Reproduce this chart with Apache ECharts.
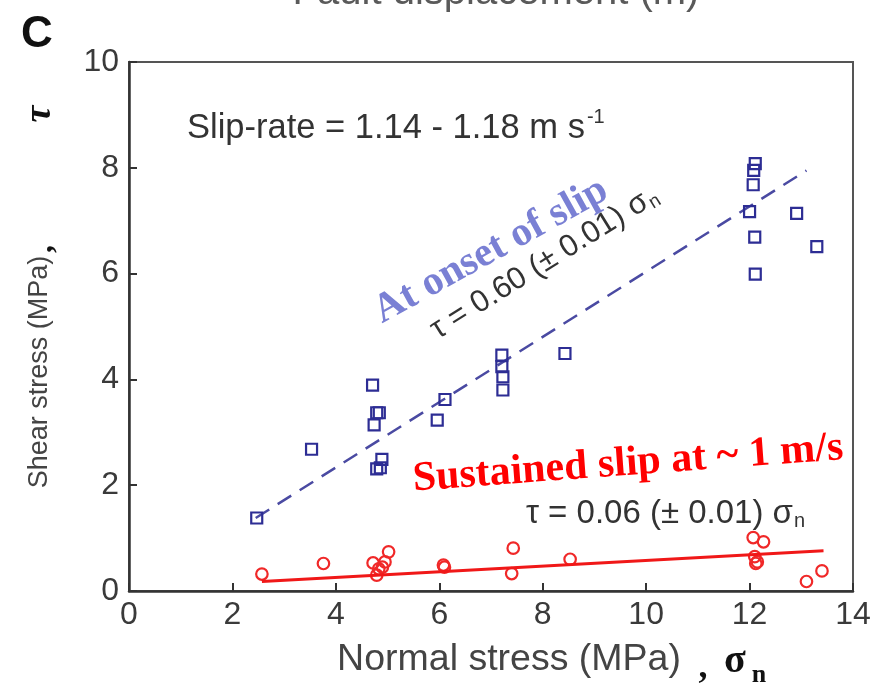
<!DOCTYPE html>
<html><head><meta charset="utf-8">
<script src="https://cdn.jsdelivr.net/npm/echarts@6/dist/echarts.min.js"></script>
<style>html,body{margin:0;padding:0;background:#fff}#c{width:884px;height:686px}</style>
</head><body><div id="c"></div>
<script>
// ---- data ----
const xTicks = [0, 2, 4, 6, 8, 10, 12, 14];
const yTicks = [0, 2, 4, 6, 8, 10];
// At onset of slip (blue squares)
const onsetX = [2.47, 3.53, 4.71, 4.79, 4.84, 4.74, 4.89, 4.79, 4.86, 5.96, 6.11, 7.21, 7.21, 7.23, 7.23, 8.43, 12.11, 12.08, 12.07, 12.0, 12.1, 12.11, 12.91, 13.3];
const onsetY = [1.38, 2.68, 3.89, 3.37, 3.37, 3.14, 2.49, 2.31, 2.33, 3.23, 3.62, 4.46, 4.24, 4.05, 3.80, 4.49, 8.08, 7.95, 7.68, 7.17, 6.69, 5.99, 7.14, 6.51];
// Sustained slip (red circles)
const sustX = [2.57, 3.76, 4.72, 4.79, 4.83, 4.95, 5.02, 4.9, 6.08, 6.1, 7.4, 7.43, 8.53, 12.07, 12.27, 12.1, 12.15, 12.12, 13.1, 13.4];
const sustY = [0.32, 0.52, 0.53, 0.30, 0.42, 0.55, 0.74, 0.45, 0.49, 0.45, 0.33, 0.81, 0.60, 1.01, 0.93, 0.65, 0.55, 0.52, 0.18, 0.38];
// fitted lines
const onsetFitX = [2.45, 13.1];
const onsetFitY = [1.38, 7.95];
const sustFitX = [2.57, 13.43];
const sustFitY = [0.18, 0.76];

// ---- helpers ----
const SANS = '"Liberation Sans", Arial, Helvetica, sans-serif';
const SERIF = '"Liberation Serif", "Times New Roman", serif';
const mctx = document.createElement('canvas').getContext('2d');
function tw(text, size, family, weight, style) {
  mctx.font = (style || 'normal') + ' ' + (weight || 'normal') + ' ' + size + 'px ' + family;
  return mctx.measureText(text).width;
}
function zip(a, b) { return a.map((v, i) => [v, b[i]]); }
function deg(d) { return d * Math.PI / 180; }

function formula(mainText, cx, cy, rotDeg, size, color) {
  const subSize = Math.round(size * 0.62);
  const wMain = tw(mainText, size, SANS);
  const wSub = tw('n', subSize, SANS);
  const W = wMain + wSub;
  return {
    type: 'group', x: cx, y: cy, rotation: deg(rotDeg),
    children: [
      { type: 'text', x: -W / 2, y: 0, style: { text: mainText, font: size + 'px ' + SANS, fill: color, textAlign: 'left', textVerticalAlign: 'middle' } },
      { type: 'text', x: -W / 2 + wMain + 1, y: size * 0.22, style: { text: 'n', font: subSize + 'px ' + SANS, fill: color, textAlign: 'left', textVerticalAlign: 'middle' } }
    ]
  };
}

const chart = echarts.init(document.getElementById('c'), null, { renderer: 'canvas' });
const axisCommon = {
  type: 'value',
  axisLine: { show: true, onZero: false, lineStyle: { color: '#333', width: 2.5 } },
  axisTick: { show: true, inside: true, length: 8, lineStyle: { color: '#333', width: 2 } },
  splitLine: { show: false },
  axisLabel: { fontSize: 32, color: '#3a3a3a', fontFamily: SANS }
};

const slipMain = 'Slip-rate = 1.14 - 1.18 m s';
const slipSize = 34.5;
const slipW = tw(slipMain, slipSize, SANS);

chart.setOption({
  animation: false,
  backgroundColor: '#fff',
  grid: { left: 129, right: 31, top: 62, bottom: 95, show: true, borderColor: '#555', borderWidth: 2, backgroundColor: 'transparent' },
  xAxis: Object.assign({}, axisCommon, {
    min: xTicks[0], max: xTicks[xTicks.length - 1], interval: xTicks[1] - xTicks[0],
    axisLabel: Object.assign({}, axisCommon.axisLabel, { margin: 8 })
  }),
  yAxis: Object.assign({}, axisCommon, {
    min: yTicks[0], max: yTicks[yTicks.length - 1], interval: yTicks[1] - yTicks[0],
    axisLabel: Object.assign({}, axisCommon.axisLabel, { margin: 10 })
  }),
  series: [
    { type: 'line', data: zip(onsetFitX, onsetFitY), symbol: 'none', z: 2,
      lineStyle: { color: '#4a4aa2', width: 2.5, type: [16, 10] } },
    { type: 'scatter', data: zip(onsetX, onsetY), symbol: 'rect', symbolSize: 11, z: 3,
      itemStyle: { color: 'rgba(255,255,255,0)', borderColor: '#2d2d94', borderWidth: 2.2, opacity: 1 } },
    { type: 'scatter', data: zip(sustX, sustY), symbol: 'circle', symbolSize: 11.5, z: 3,
      itemStyle: { color: 'rgba(255,255,255,0)', borderColor: '#f02828', borderWidth: 2.2, opacity: 1 } },
    { type: 'line', data: zip(sustFitX, sustFitY), symbol: 'none', z: 4,
      lineStyle: { color: '#f01818', width: 3 } }
  ],
  graphic: [
    { type: 'text', x: 496, y: 13, style: { text: 'Fault displacement (m)', font: '40px ' + SANS, fill: '#5a5a5a', textAlign: 'center', textVerticalAlign: 'bottom' } },
    { type: 'text', x: 37, y: 35, style: { text: 'C', font: 'bold 44px ' + SANS, fill: '#111', textAlign: 'center', textVerticalAlign: 'middle' } },
    { type: 'text', x: 187, y: 128, style: { text: slipMain, font: slipSize + 'px ' + SANS, fill: '#333', textAlign: 'left', textVerticalAlign: 'middle' } },
    { type: 'text', x: 187 + slipW + 2, y: 117, style: { text: '-1', font: '20px ' + SANS, fill: '#333', textAlign: 'left', textVerticalAlign: 'middle' } },
    { type: 'text', x: 491, y: 251, rotation: deg(29), style: { text: 'At onset of slip', font: 'bold 41px ' + SERIF, fill: '#7a80d4', textAlign: 'center', textVerticalAlign: 'middle' } },
    formula('τ = 0.60 (± 0.01) σ', 544, 263, 32, 31, '#333'),
    { type: 'text', x: 628, y: 464, rotation: deg(4.2), style: { text: 'Sustained slip at ~ 1 m/s', font: 'bold 42px ' + SERIF, fill: '#ff0000', textAlign: 'center', textVerticalAlign: 'middle' } },
    formula('τ = 0.06 (± 0.01) σ', 665, 514, 0, 33, '#333'),
    { type: 'text', x: 40, y: 372, rotation: deg(90), style: { text: 'Shear stress (MPa)', font: '27px ' + SANS, fill: '#444', textAlign: 'center', textVerticalAlign: 'middle' } },
    { type: 'text', x: 44, y: 249, rotation: deg(90), style: { text: ',', font: 'bold 32px ' + SERIF, fill: '#111', textAlign: 'center', textVerticalAlign: 'middle' } },
    { type: 'text', x: 40, y: 114, rotation: deg(90), style: { text: 'τ', font: 'italic bold 38px ' + SERIF, fill: '#111', textAlign: 'center', textVerticalAlign: 'middle' } },
    { type: 'text', x: 509, y: 660, style: { text: 'Normal stress (MPa)', font: '37.5px ' + SANS, fill: '#444', textAlign: 'center', textVerticalAlign: 'middle' } },
    { type: 'text', x: 703, y: 668, style: { text: ',', font: 'bold 36px ' + SERIF, fill: '#111', textAlign: 'center', textVerticalAlign: 'middle' } },
    { type: 'text', x: 735, y: 662, style: { text: 'σ', font: 'bold 40px ' + SERIF, fill: '#111', textAlign: 'center', textVerticalAlign: 'middle' } },
    { type: 'text', x: 759, y: 675, style: { text: 'n', font: 'bold 26px ' + SERIF, fill: '#111', textAlign: 'center', textVerticalAlign: 'middle' } }
  ]
});
</script>
</body></html>
